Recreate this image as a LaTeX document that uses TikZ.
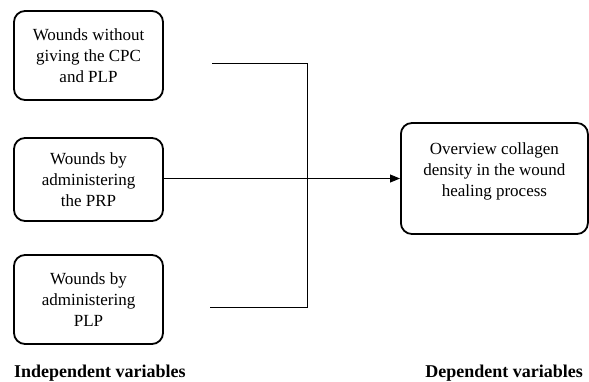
\documentclass[tikz,border=0pt]{standalone}
\usepackage{fontspec}
\setmainfont{Liberation Serif}
\usetikzlibrary{arrows.meta}
\begin{document}
\begin{tikzpicture}[x=1pt,y=-1pt,
  box/.style={draw, line width=1.8pt, rounded corners=11pt, align=center, inner sep=0pt,
    font=\fontsize{17}{21}\selectfont},
  conn/.style={line width=0.9pt},
  lbl/.style={font=\fontsize{18}{20}\selectfont\bfseries, inner sep=0pt}]
\useasboundingbox (0,0) rectangle (589,381);
\node[box, minimum width=149pt, minimum height=89pt] (b1) at (88.5,55.5) {Wounds without\\giving the CPC\\and PLP};
\node[box, minimum width=149pt, minimum height=83pt] (b2) at (88.5,179.5) {Wounds by\\administering\\the PRP};
\node[box, minimum width=149pt, minimum height=89pt] (b3) at (88.5,299.5) {Wounds by\\administering\\PLP};
\node[box, minimum width=187pt, minimum height=111pt, anchor=west] (b4) at (400,178.5) {\rule{0pt}{22pt}Overview collagen\\density in the wound\\healing process\\[8pt]};
\coordinate (t1) at (212,63);
\coordinate (t3) at (210,307);
\coordinate (c1) at (307,63);
\coordinate (c3) at (307,307);
\draw[conn] (t1) -- (c1) -- (c3) -- (t3);
\draw[conn, -{Triangle[length=10pt,width=8pt]}] (b2.east |- 0,178.5) -- (b4.west);
\node[lbl, anchor=west] (l1) at (14,373) {Independent variables};
\node[lbl, anchor=east] (l2) at (583,373) {Dependent variables};
\end{tikzpicture}
\end{document}
